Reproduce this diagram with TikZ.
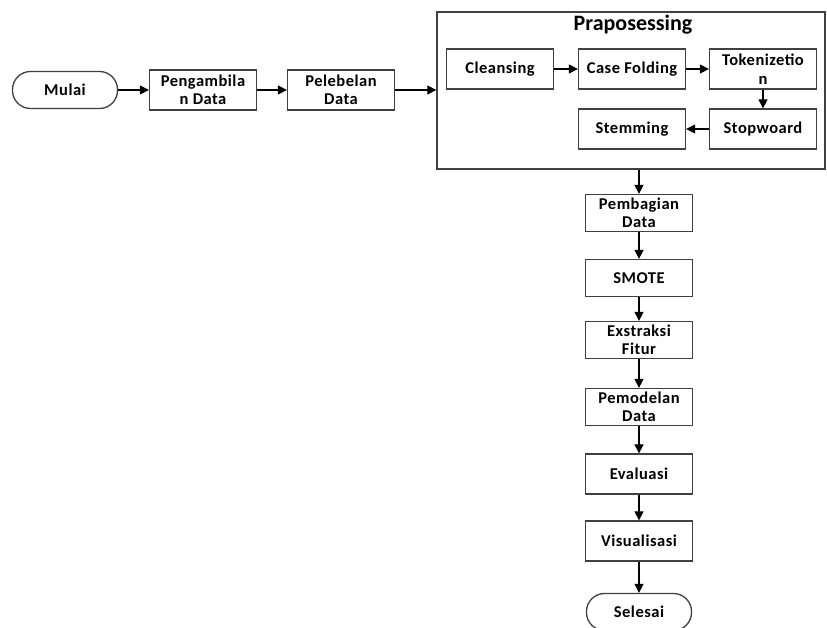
\documentclass[tikz,border=0pt]{standalone}
\usepackage{fontspec}
\setmainfont{Carlito}
\usepackage{tikz}
\usetikzlibrary{arrows.meta}
\newcommand*\boxwd{107pt}
\newcommand*\boxht{40pt}
\tikzset{
    stepbox/.style   = {draw=black!75, line width=1.3pt, fill=white,
                    minimum width=\boxwd, minimum height=\boxht,
                    inner sep=0pt, align=center,
                    font=\fontsize{16.5}{18.5}\selectfont\bfseries\addfontfeature{LetterSpace=3}},
    termbox/.style   = {stepbox, rounded corners=18pt, minimum height=37pt,
                    minimum width=105pt},
    groupbox/.style  = {draw=black!75, line width=1.3pt,
                    minimum width=388pt, minimum height=157pt},
    flow/.style      = {draw=black, line width=1.2pt,
                    -{Triangle[length=9pt,width=9pt]}},
  }
\begin{document}
\begin{tikzpicture}[x=1pt,y=-1pt]
        % page frame
        \clip (0,0) rectangle (827,627);
        \fill[white] (0,0) rectangle (827,627);

        % top row
        \node[termbox] (mulai) at (65,90) {Mulai};
        \node[stepbox] (ambil) at (203,90) {Pengambila\\n Data};
        \node[stepbox] (label) at (341,90) {Pelebelan\\Data};

        % preprocessing group with its steps
        \node[groupbox] (prep) at (631,90.5) {};
        \node[font=\fontsize{22}{24}\selectfont\bfseries] (preptitle) at (633,25) {Praposessing};
        \node[stepbox] (clean) at (500,69) {Cleansing};
        \node[stepbox] (fold)  at (632,69) {Case Folding};
        \node[stepbox] (token) at (763,69) {Tokenizetio\\n};
        \node[stepbox] (stop)  at (763,129) {Stopwoard};
        \node[stepbox] (stem)  at (632,129) {Stemming};

        % vertical column
        \node[stepbox, minimum height=37pt] (bagi)   at (639,213) {Pembagian\\Data};
        \node[stepbox, minimum height=37pt] (smote)  at (639,278) {SMOTE};
        \node[stepbox, minimum height=37pt] (fitur)  at (639,340) {Exstraksi\\Fitur};
        \node[stepbox, minimum height=37pt] (model)  at (639,407) {Pemodelan\\Data};
        \node[stepbox] (eval)   at (639,474) {Evaluasi};
        \node[stepbox] (visual) at (639,541) {Visualisasi};
        \node[termbox] (selesai) at (639,612) {Selesai};

        % connectors
        \draw[flow] (mulai) -- (ambil);
        \draw[flow] (ambil) -- (label);
        \draw[flow] (label) -- (prep.west |- label.east);
        \draw[flow] (clean) -- (fold);
        \draw[flow] (fold) -- (token);
        \draw[flow] (token) -- (stop);
        \draw[flow] (stop) -- (stem);
        \draw[flow] (prep.south -| bagi.north) -- (bagi);
        \foreach \a/\b in {bagi/smote, smote/fitur, fitur/model, model/eval, eval/visual, visual/selesai} {
            \draw[flow] (\a) -- (\b);
        }
    \end{tikzpicture}
\end{document}
